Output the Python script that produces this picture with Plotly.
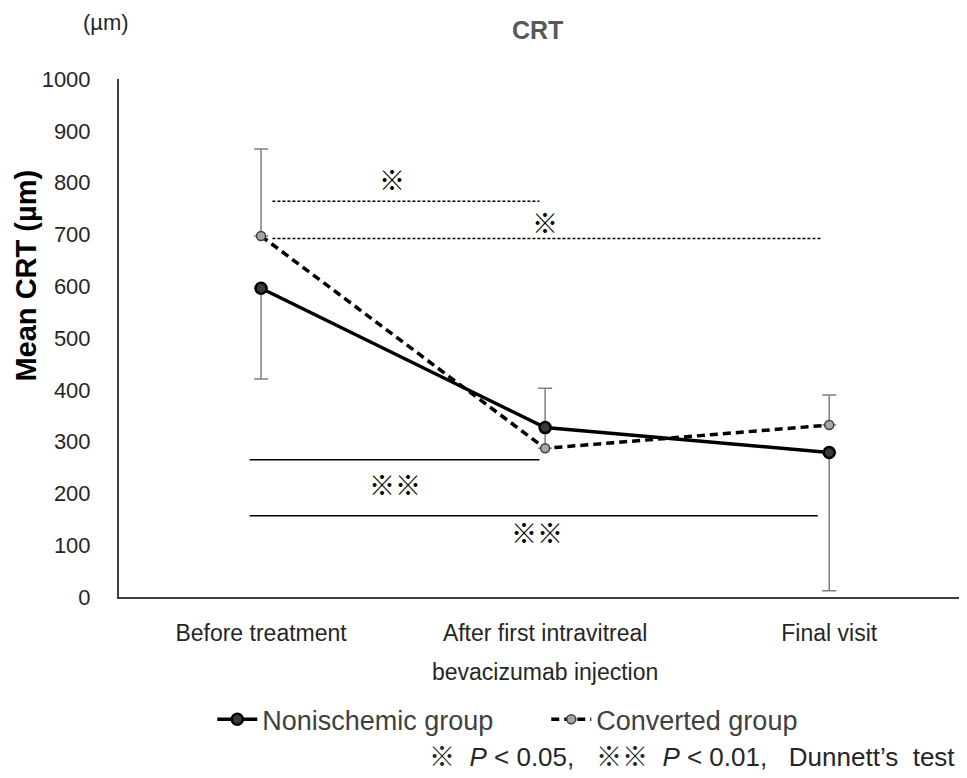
import plotly.graph_objects as go

# ---- data ----
categories = ["Before treatment", "After first intravitreal", "Final visit"]
category_second_line = "bevacizumab injection"

nonischemic_mean = [596, 327, 279]
nonischemic_err_minus = [175, 0, 267]

converted_mean = [697, 287, 332]
converted_err_plus = [168, 116, 58]

# significance brackets (category index from/to, level in µm)
sig_from = [0.04, 0.04, -0.04, -0.04]
sig_to = [0.98, 1.97, 0.98, 1.96]
sig_level = [764, 692, 265, 157]
sig_dash = ["dot", "dot", "solid", "solid"]
sig_text = ["※", "※", "※※", "※※"]
sig_text_x = [0.46, 1.0, 0.47, 0.97]
sig_text_y = [807, 725, 220, 126]

y_ticks = list(range(0, 1001, 100))

FONT = "Liberation Sans, Arial, Noto Sans CJK JP, sans-serif"
CJK = "Noto Sans CJK JP, Liberation Sans, sans-serif"
NB = "\u00a0"

fig = go.Figure()

fig.add_trace(go.Scatter(
    x=categories, y=converted_mean, name="Converted group",
    mode="lines+markers",
    line=dict(color="black", width=3.5, dash="8px,5px"),
    marker=dict(symbol="circle", size=9, color="#a6a6a6",
                line=dict(color="#404040", width=1.5)),
    error_y=dict(type="data", symmetric=False, array=converted_err_plus,
                 arrayminus=[0, 0, 0], color="#7f7f7f", thickness=1.5, width=7),
    legendrank=2,
))

fig.add_trace(go.Scatter(
    x=categories, y=nonischemic_mean, name="Nonischemic group",
    mode="lines+markers",
    line=dict(color="black", width=3.5),
    marker=dict(symbol="circle", size=11, color="#3a3a3a",
                line=dict(color="black", width=2.5)),
    error_y=dict(type="data", symmetric=False, array=[0, 0, 0],
                 arrayminus=nonischemic_err_minus, color="#7f7f7f", thickness=1.5, width=7),
    legendrank=1,
))

for x0, x1, lvl, d in zip(sig_from, sig_to, sig_level, sig_dash):
    fig.add_shape(type="line", xref="x", yref="y", x0=x0, x1=x1, y0=lvl, y1=lvl,
                  line=dict(color="black", width=1.5, dash="3px,2px" if d == "dot" else "solid"))

for tx, ty, t in zip(sig_text_x, sig_text_y, sig_text):
    fig.add_annotation(xref="x", yref="y", x=tx, y=ty, text=t, showarrow=False,
                       font=dict(family=CJK, size=26, color="black"))

# second line of middle category label
fig.add_annotation(xref="x", yref="paper", x=1, y=-0.145, text=category_second_line,
                   showarrow=False, yanchor="middle",
                   font=dict(family=FONT, size=23, color="#262626"))

# title and unit
fig.add_annotation(xref="paper", yref="paper", x=0.494, y=1.095, text="<b>CRT</b>",
                   showarrow=False, yanchor="middle",
                   font=dict(family=FONT, size=25, color="#595959"))
fig.add_annotation(xref="paper", yref="paper", x=-0.045, y=1.11, text="(µm)",
                   showarrow=False, yanchor="middle",
                   font=dict(family=FONT, size=22, color="#262626"))

# y axis title
fig.add_annotation(xref="paper", yref="paper", x=-0.11, y=0.62, text="<b>Mean CRT (µm)</b>",
                   showarrow=False, textangle=-90, xanchor="center", yanchor="middle",
                   font=dict(family=FONT, size=29, color="black"))

# footnote
fig.add_annotation(xref="paper", yref="paper", x=0.988, y=-0.309,
                   text="※" + NB * 2 + "<i>P</i> < 0.05," + NB * 3 + "※※" + NB * 2 + "<i>P</i> < 0.01,"
                        + NB * 3 + "Dunnett’s" + NB * 2 + "test",
                   showarrow=False, xanchor="right", yanchor="middle",
                   font=dict(family=FONT, size=26, color="#262626"))

fig.update_layout(
    width=959, height=770,
    margin=dict(l=111, r=0, t=71, b=181),
    paper_bgcolor="white", plot_bgcolor="white",
    font=dict(family=FONT, color="#262626"),
    showlegend=True,
    legend=dict(orientation="h", x=0.11, y=-0.237, xanchor="left", yanchor="middle",
                font=dict(family=FONT, size=27, color="#404040"),
                itemwidth=40, entrywidth=279, entrywidthmode="pixels",
                bgcolor="rgba(0,0,0,0)"),
    xaxis=dict(type="category", categoryorder="array", categoryarray=categories,
               range=[-0.5, 2.485], showline=True, linecolor="#404040", linewidth=2,
               showgrid=False, zeroline=False, ticks="",
               tickfont=dict(family=FONT, size=23, color="#262626"),
               ticklabelstandoff=14),
    yaxis=dict(range=[0, 1000], tickvals=y_ticks, showline=True, linecolor="#404040",
               linewidth=2, showgrid=False, zeroline=False, ticks="",
               tickfont=dict(family=FONT, size=22, color="#262626"),
               ticklabelstandoff=22),
)

fig.write_html("out.html")
